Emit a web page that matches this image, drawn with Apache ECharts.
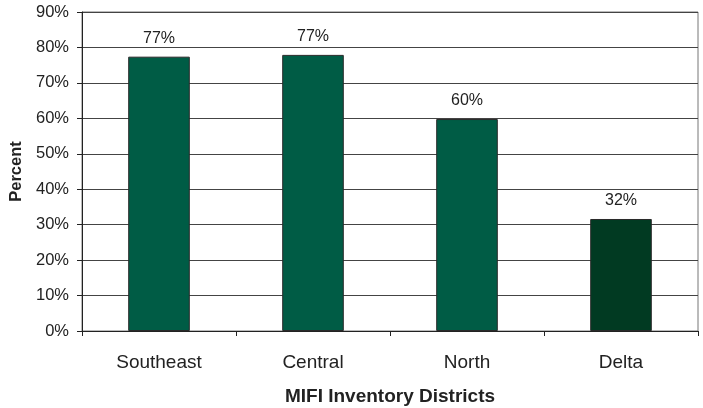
<!DOCTYPE html>
<html>
<head>
<meta charset="utf-8">
<script src="https://cdn.jsdelivr.net/npm/echarts@6/dist/echarts.min.js"></script>
<style>
  html, body { margin: 0; padding: 0; background: #fff; }
  #chart { width: 703px; height: 408px; }
</style>
</head>
<body>
<div id="chart"></div>
<script>
// districts and share of inventory (percent)
var districts = ['Southeast', 'Central', 'North', 'Delta']
var percents = [77.4, 77.9, 59.8, 31.6]
var barLabels = ['77%', '77%', '60%', '32%']
var barColors = ['#005c45', '#005c45', '#005c45', '#013a22']
var yTicks = [0, 10, 20, 30, 40, 50, 60, 70, 80, 90]

var font = 'Liberation Sans, Arial, sans-serif'
var chart = echarts.init(document.getElementById('chart'))

chart.setOption({
  animation: false,
  grid: { left: 82, right: 5, top: 12, bottom: 77, containLabel: false, outerBoundsMode: 'none' },
  xAxis: {
    type: 'category',
    data: districts,
    name: 'MIFI Inventory Districts',
    nameLocation: 'middle',
    nameGap: 56,
    nameTextStyle: { fontFamily: font, fontSize: 19, fontWeight: 'bold', color: '#222' },
    axisLine: { lineStyle: { color: '#222', width: 1 } },
    axisTick: { show: true, length: 5, alignWithLabel: false, lineStyle: { color: '#222' } },
    axisLabel: { fontFamily: font, fontSize: 19, color: '#222', margin: 22 }
  },
  yAxis: {
    type: 'value',
    min: yTicks[0],
    max: yTicks[yTicks.length - 1],
    interval: 10,
    name: 'Percent',
    nameLocation: 'middle',
    nameGap: 53,
    nameRotate: 90,
    nameTextStyle: { fontFamily: font, fontSize: 16.5, fontWeight: 'bold', color: '#222' },
    axisLine: { show: true, lineStyle: { color: '#222', width: 1 } },
    axisTick: { show: true, length: 5, lineStyle: { color: '#222' } },
    axisLabel: { fontFamily: font, fontSize: 16.5, color: '#222', margin: 13, formatter: '{value}%' },
    splitLine: { show: true, lineStyle: { color: '#444', width: 1 } }
  },
  graphic: [
    {
      type: 'rect',
      shape: { x: 82, y: 12, width: 616, height: 319 },
      style: { fill: 'none', stroke: '#777', lineWidth: 1 },
      silent: true,
      z: 0
    }
  ],
  series: [
    {
      type: 'bar',
      barWidth: '40%',
      data: percents.map(function (v, i) {
        return { value: v, itemStyle: { color: barColors[i] } }
      }),
      itemStyle: { borderColor: '#2a2a2a', borderWidth: 1 },
      label: {
        show: true,
        position: 'top',
        distance: 10,
        fontFamily: font,
        fontSize: 16,
        color: '#222',
        formatter: function (p) { return barLabels[p.dataIndex] }
      }
    }
  ]
})
</script>
</body>
</html>
